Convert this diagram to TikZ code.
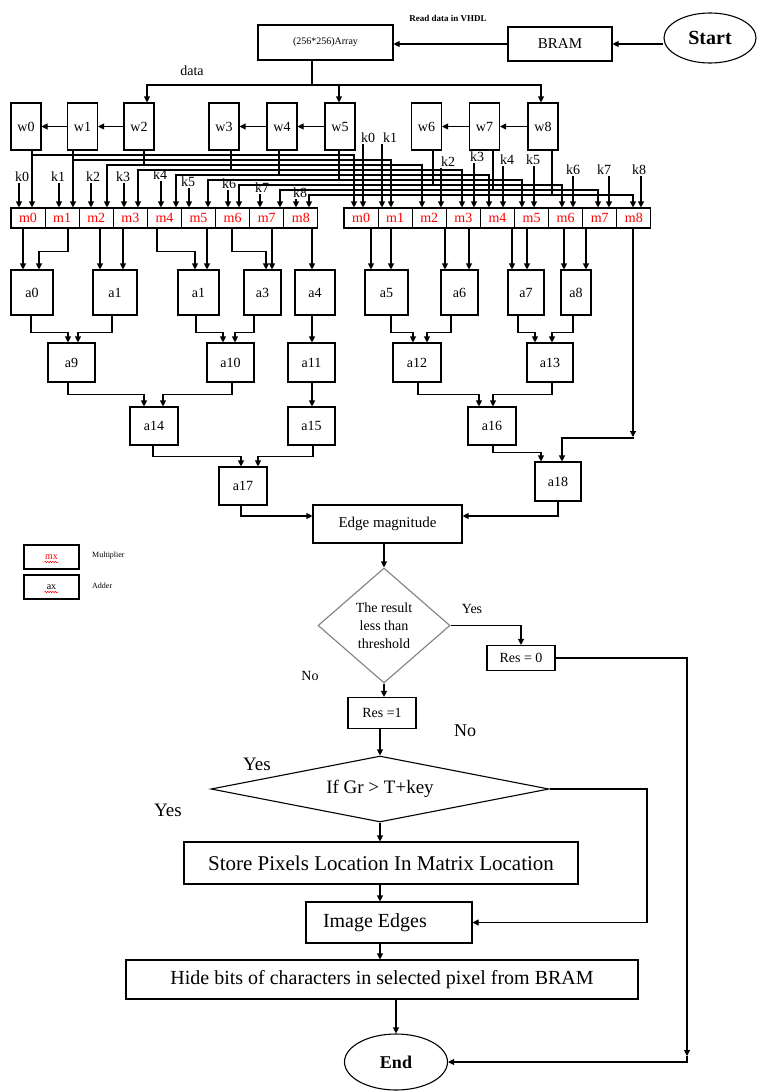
\documentclass[tikz,border=0pt]{standalone}
\usepackage{fontspec}
\setmainfont{Liberation Serif}
\usetikzlibrary{arrows.meta,shapes.geometric,decorations.pathmorphing}
\newcommand{\fsz}[2]{\fontsize{#1}{#2}\selectfont}
\begin{document}
\begin{tikzpicture}[x=1pt,y=-1pt,
  line/.style={line width=1.1pt},
  arr/.style={line width=1.1pt,-{Triangle[length=6pt,width=6pt]}},
  box/.style={draw,line width=1.1pt,inner sep=0pt,rectangle},
  wbox/.style={box,minimum width=30pt,minimum height=47pt,font=\fsz{14}{14}},
  mbox/.style={box,minimum width=34.1pt,minimum height=20pt,text=red,font=\fsz{14}{14}},
  abox/.style={box,font=\fsz{14}{14}},
  klab/.style={inner sep=1pt,font=\fsz{14}{14}},
  lab/.style={inner sep=0pt},
]
\useasboundingbox (0,0) rectangle (757,1092);

% ---------- input stage ----------
\node[draw,ellipse,line width=1.1pt,minimum width=92pt,minimum height=50pt,inner sep=0pt,font=\bfseries\fsz{20}{20}] (start) at (710,38) {Start};
\node[box,minimum width=104pt,minimum height=34pt,font=\fsz{15}{15}] (bram) at (560,44) {BRAM};
\node[box,minimum width=135pt,minimum height=35pt,font=\fsz{10}{10}] (array) at (325.5,42.5) {(256*256)Array};
\node[lab,font=\bfseries\fsz{9}{9}] (vhdl) at (448,18) {Read data in VHDL};
\draw[arr] (start.west |- bram.east) -- (bram.east);
\draw[arr] (bram.west) -- (array.east |- bram.west);

% ---------- window registers ----------
\foreach \i/\x in {0/26,1/82.5,2/139,3/224,4/282,5/340,6/426.5,7/484.5,8/543}
  \node[wbox] (w\i) at (\x,126.5) {w\i};
\foreach \a/\b in {2/1,1/0,5/4,4/3,8/7,7/6}
  \draw[arr] (w\a.west) -- (w\b.east);

\coordinate (bus) at (312,85);
\node[lab,font=\fsz{14}{14}] (data) at (192,71) {data};
\draw[line] (array.south -| bus) -- (bus);
\draw[arr] (bus) -| (w2.north -| 147,0);
\draw[arr] (bus) -| (w5.north -| 339,0);
\draw[arr] (bus) -| (w8.north -| 541,0);

% ---------- multipliers ----------
\foreach \i in {0,...,8} {
  \node[mbox] (lm\i) at ({28.05+34.1*\i},218) {m\i};
  \node[mbox] (rm\i) at ({361.05+34.1*\i},218) {m\i};
}

% coefficient inputs
\foreach \i/\lx/\ly/\ax in {0/22/177/19,1/58/177/59,2/93/177/91,3/123/177/124,4/160/175/161,5/188/182/189,6/229/184/228,7/262/188/260,8/300/193/296} {
  \node[klab] (lk\i) at (\lx,\ly) {k\i};
  \draw[arr] (lk\i.south -| \ax,0) -- (lm\i.north -| \ax,0);
}
\foreach \i/\lx/\ly/\ax in {0/368/138/363,1/390/138/382,2/448/162/441,3/477/157/474,4/507/160/503,5/533/160/534,6/573/170/573,7/604/170/609,8/639/170/641} {
  \node[klab] (rk\i) at (\lx,\ly) {k\i};
  \draw[arr] (rk\i.south -| \ax,0) -- (rm\i.north -| \ax,0);
}

% pixel bus from the window registers to both multiplier banks
\foreach \i/\dx/\ly/\lx/\rx in {0/32/155/32/354,1/73/160/73/391,2/144/165/107/422,3/231/170/138/462,4/279/175/176/489,5/339/180/208/522,6/433/185/239/562,7/493/190/280/598,8/552/195/309/633} {
  \coordinate (b\i) at (\dx,\ly);
  \draw[line] (w\i.south -| b\i) -- (b\i);
  \draw[arr] (b\i) -| (lm\i.north -| \lx,0);
  \draw[arr] (b\i) -| (rm\i.north -| \rx,0);
}

% ---------- adder tree ----------
\foreach \n/\cx/\cy/\w/\h/\t in {
  a0/32/292.5/42/45/a0, a1/115/292.5/44/45/a1, a2/198.5/292.5/41/45/a1,
  a3/262.5/292.5/37/45/a3, a4/315/292.5/40/45/a4, a5/386.5/292.5/43/45/a5,
  a6/459.5/292.5/37/45/a6, a7/526/292.5/36/45/a7, a8/576/292.5/30/45/a8,
  a9/71.5/362.5/47/39/a9, a10/230.5/362.5/47/39/a10, a11/311.5/362.5/47/39/a11,
  a12/417/362.5/48/39/a12, a13/550/362.5/46/39/a13,
  a14/154/426/48/38/a14, a15/311.5/426/47/38/a15, a16/492/426/48/38/a16,
  a17/243/486/48/38/a17, a18/558/481.5/46/39/a18}
  \node[abox,minimum width=\w pt,minimum height=\h pt] (\n) at (\cx,\cy) {\t};

\foreach \s/\sx/\d/\dx in {lm0/23/a0/23,lm1/68/a0/39,lm2/100/a1/100,lm3/123/a1/123,
  lm4/157/a2/195,lm5/207/a2/207,lm6/232/a3/266,lm7/272/a3/272,lm8/312/a4/312,
  rm0/371/a5/371,rm1/391/a5/391,rm2/445/a6/445,rm3/469/a6/469,rm4/512/a7/512,
  rm5/527/a7/527,rm6/564/a8/564,rm7/586/a8/586}
  \draw[arr] (\s.south -| \sx,0) -- ++(0,23) -| (\d.north -| \dx,0);

\foreach \s/\sx/\d/\dx in {a0/31/a9/68,a1/112/a9/78,a2/196/a10/223,a3/254/a10/235,
  a4/312/a11/312,a5/391/a12/413,a6/451/a12/427,a7/518/a13/535,a8/573/a13/552}
  \draw[arr] (\s.south -| \sx,0) -- ++(0,17) -| (\d.north -| \dx,0);

\foreach \s/\sx/\d/\dx in {a9/68/a14/144,a10/232/a14/163,a11/312/a15/312,a12/418/a16/479,a13/552/a16/493}
  \draw[arr] (\s.south -| \sx,0) -- ++(0,12) -| (\d.north -| \dx,0);

\draw[arr] (a14.south -| 153,0) -- ++(0,11) -| (a17.north -| 241,0);
\draw[arr] (a15.south -| 313,0) -- ++(0,11) -| (a17.north -| 258,0);
\draw[arr] (a16.south -| 493,0) -- ++(0,7) -| (a18.north -| 541,0);

\coordinate (m8tip) at (633,437);
\draw[arr] (rm8.south -| m8tip) -- (m8tip);
\draw[arr] (m8tip) -- ++(0,1) -| (a18.north -| 562,0);

% ---------- edge magnitude ----------
\node[box,minimum width=149pt,minimum height=38pt,font=\fsz{15}{15}] (edge) at (387.5,524) {Edge magnitude};
\draw[arr] (a17.south -| 241,0) |- (edge.west |- 0,516);
\draw[arr] (a18.south -| 558,0) |- (edge.east |- 0,516);

% legend
\node[box,minimum width=55pt,minimum height=24pt,font=\fsz{10}{10},text=red] (lgm) at (51.5,557) {mx};
\node[box,minimum width=55pt,minimum height=24pt,font=\fsz{10}{10}] (lga) at (51.5,587) {ax};
\draw[red,line width=0.5pt,decorate,decoration={snake,amplitude=0.7pt,segment length=2.5pt}]
  ([xshift=-7pt,yshift=-5pt]lgm.center) -- ([xshift=7pt,yshift=-5pt]lgm.center);
\draw[red,line width=0.5pt,decorate,decoration={snake,amplitude=0.7pt,segment length=2.5pt}]
  ([xshift=-7pt,yshift=-5pt]lga.center) -- ([xshift=7pt,yshift=-5pt]lga.center);
\node[lab,anchor=west,font=\fsz{8}{8}] (lgmt) at (92,556) {Multiplier};
\node[lab,anchor=west,font=\fsz{8}{8}] (lgat) at (92,586) {Adder};

% ---------- threshold decision ----------
\node[diamond,draw=gray,line width=1.1pt,minimum width=132pt,minimum height=115pt,inner sep=0pt,align=center,font=\fsz{14}{18}] (d1) at (384,625.5) {The result\\less than\\threshold};
\draw[arr] (edge.south -| d1.north) -- (d1.north);
\node[lab,font=\fsz{14}{14}] (yes1) at (472,609) {Yes};
\node[box,minimum width=68pt,minimum height=25pt,font=\fsz{14}{14}] (res0) at (521,658) {Res = 0};
\draw[arr] (d1.east) -| (res0.north);
\node[lab,font=\fsz{14}{14}] (no1) at (310,676) {No};
\node[box,minimum width=68pt,minimum height=31pt,font=\fsz{14}{14}] (res1) at (382,713) {Res =1};
\draw[arr] (d1.south) -- (res1.north -| d1.south);
\node[lab,font=\fsz{18}{18}] (no2) at (465,731) {No};

% ---------- key decision ----------
\node[diamond,draw,line width=1.1pt,shape aspect=5,minimum width=338pt,minimum height=66pt,inner sep=0pt,font=\fsz{19}{19}] (d2) at (380,789) {If Gr > T+key};
\draw[arr] (res1.south -| d2.north) -- (d2.north);
\node[lab,font=\fsz{19}{19}] (yes2) at (257,764) {Yes};
\node[lab,font=\fsz{19}{19}] (yes3) at (168,810) {Yes};

\node[box,minimum width=394pt,minimum height=42pt,font=\fsz{21}{21}] (store) at (381,863) {Store Pixels Location In Matrix Location};
\draw[arr] (d2.south) -- (store.north -| d2.south);

\node[box,inner xsep=17pt,minimum height=41pt,font=\fsz{20}{20}] (edges) at (389,922.5) {\makebox[132pt][l]{Image Edges}};
\draw[arr] (store.south -| d2.south) -- (edges.north -| d2.south);
\coordinate (nobend) at (647,789);
\draw[arr] (d2.east) -- (nobend) |- (edges.east);

\node[box,minimum width=512pt,minimum height=39pt,font=\fsz{20}{20}] (hide) at (382,979.5) {Hide bits of characters in selected pixel from BRAM};
\draw[arr] (edges.south -| d2.south) -- (hide.north -| d2.south);

\node[draw,ellipse,line width=1.1pt,minimum width=103pt,minimum height=56pt,inner sep=0pt,font=\bfseries\fsz{18}{18}] (end) at (396,1062) {End};
\draw[arr] (hide.south -| end.north) -- (end.north);
\coordinate (rbend) at (687,1056);
\draw[arr] (res0.east) -| (rbend);
\draw[arr] (rbend) |- (end.east);
\end{tikzpicture}
\end{document}
